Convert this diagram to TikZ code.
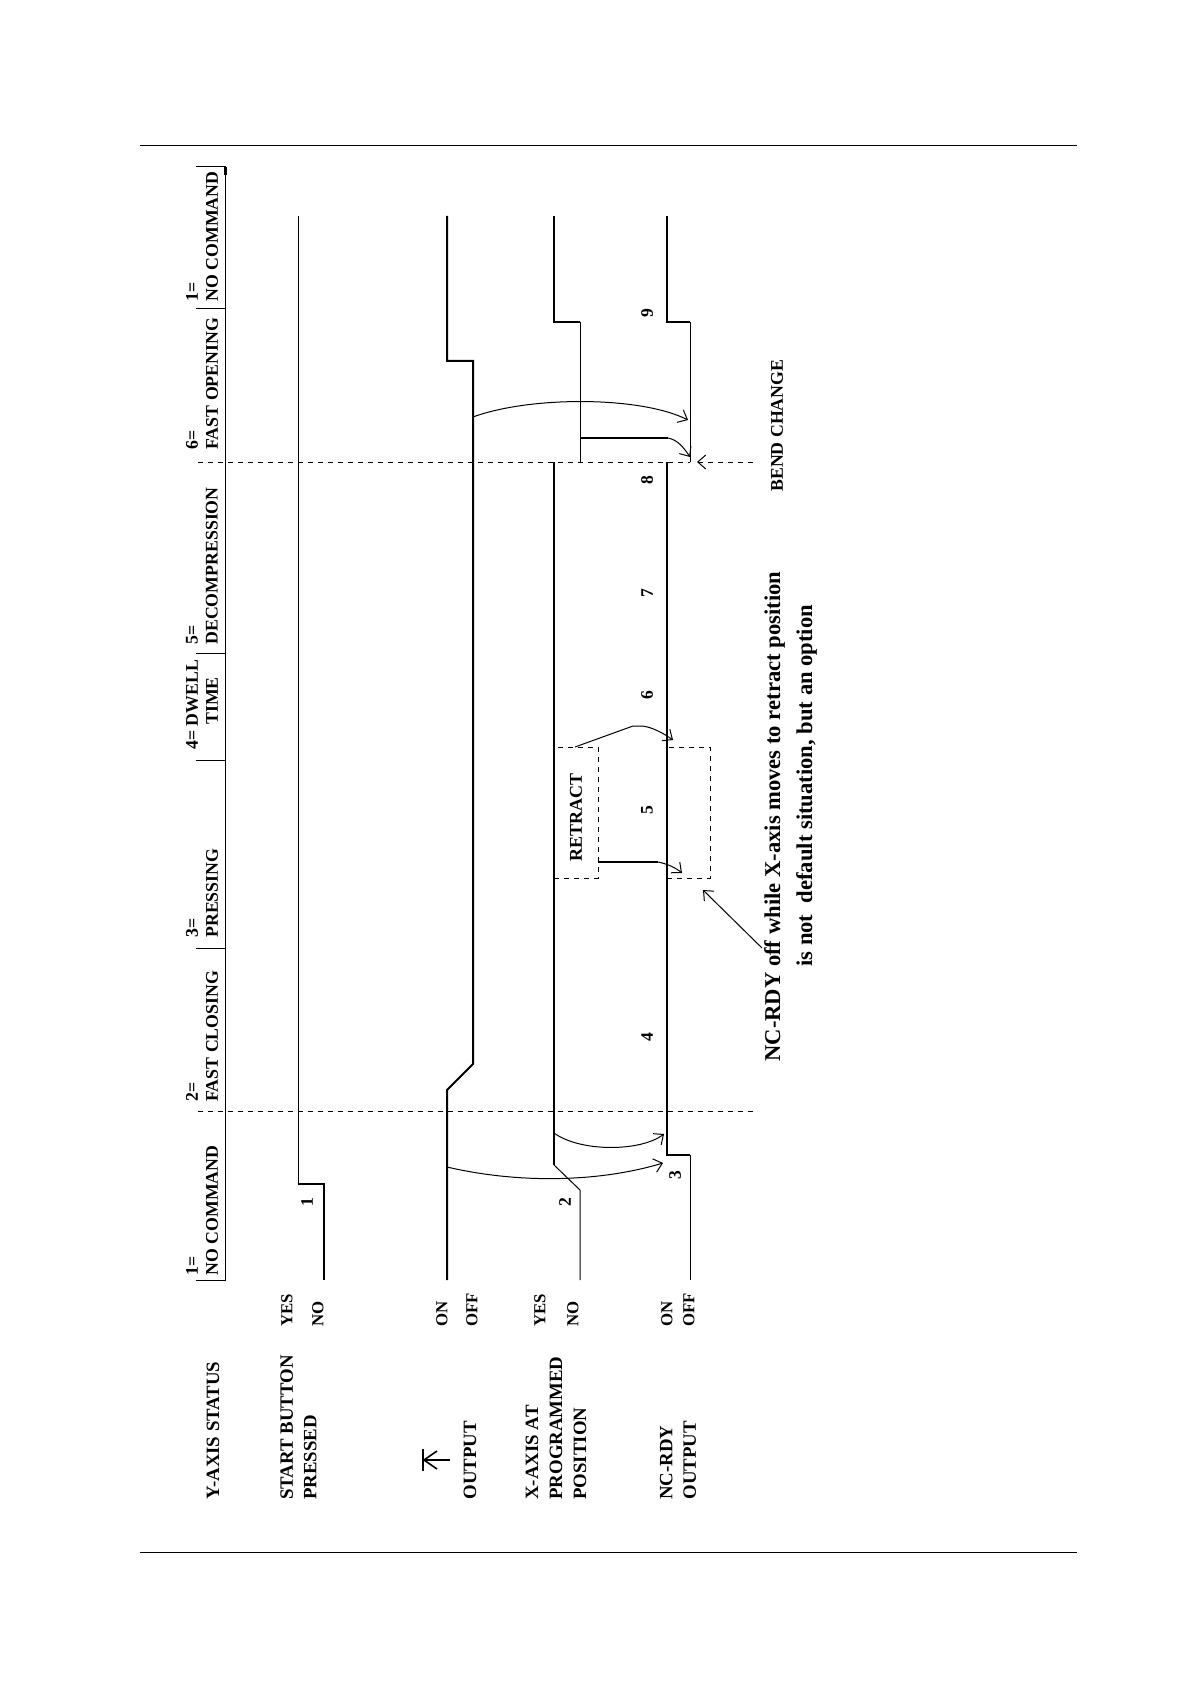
\documentclass[tikz,border=0pt]{standalone}
\usepackage{fontspec}
\setmainfont{Liberation Serif}
\usepackage{tikz}
\usetikzlibrary{arrows.meta, positioning}
\tikzstyle{hdr} = [rotate=90, anchor=west, inner sep=0pt, align=left, font=\fontsize{8.9}{10}\selectfont\bfseries]
\tikzstyle{lbl} = [rotate=90, anchor=west, inner sep=0pt, align=left, font=\fontsize{9.4}{11.75}\selectfont\bfseries]
\tikzstyle{lvl} = [rotate=90, anchor=west, inner sep=0pt, font=\fontsize{8.4}{10}\selectfont\bfseries]
\tikzstyle{num} = [rotate=90, inner sep=0pt, font=\fontsize{8.8}{10}\selectfont\bfseries]
\tikzstyle{note} = [rotate=90, anchor=base west, inner sep=0pt, font=\fontsize{11.3}{14}\selectfont\bfseries]
\tikzstyle{sig} = [line width=1pt]
\tikzstyle{sigthin} = [line width=0.5pt]
\tikzstyle{cue} = [draw, line width=0.5pt, ->]
\tikzstyle{phase} = [line width=0.5pt, dash pattern=on 2.5pt off 2.5pt]

\begin{document}
\begin{tikzpicture}[x=0.5pt, y=-0.5pt, >={Straight Barb[length=4pt,width=7pt]}]
    \useasboundingbox (0,0) rectangle (1190,1684);
    % Page rules
    \draw[sigthin] (140,146) -- (1077,146);
    \draw[sigthin] (140,1552) -- (1077,1552);

    % Y-axis status header
    \draw[sigthin] (196,167) -- (225,167) -- (225,1280) -- (196,1280);
    \draw[line width=1.5pt] (225,167) -- (225,175);
    \foreach \y in {309,653,760,948}
        \draw[sigthin] (196,\y) -- (225,\y);
    \node (st1) [hdr] at (202,1276) {1=\\NO COMMAND};
    \node (st2) [hdr] at (202,1102) {2=\\FAST CLOSING};
    \node (st3) [hdr] at (202,938) {3=\\PRESSING};
    \node (st4) [hdr] at (202,750) {4= DWELL\\\hspace*{12.5pt}TIME};
    \node (st5) [hdr] at (202,645) {5=\\DECOMPRESSION};
    \node (st6) [hdr] at (202,450) {6=\\FAST OPENING};
    \node (st7) [hdr] at (202,302) {1=\\NO COMMAND};

    % Phase boundaries
    \draw[phase] (198,1111) -- (757,1111);
    \draw[phase] (198,462) -- (690,462);

    % Signal names
    \node (ystatus) [lbl] at (213,1500) {Y-AXIS STATUS};
    \node (startbtn) [lbl] at (298.5,1500) {START BUTTON\\PRESSED};
    \node (yout) [lbl] at (470,1500) {OUTPUT};
    \node (xpos) [lbl, font=\fontsize{9.4}{12}\selectfont\bfseries] at (556,1500) {X-AXIS AT\\PROGRAMMED\\POSITION};
    \node (ncrdy) [lbl] at (678,1500) {NC-RDY\\OUTPUT};
    \draw[line width=0.8pt] (450,1460) -- (423,1460);
    \draw[line width=0.8pt] (423,1449) -- (423,1471);
    \draw[line width=0.8pt] (437,1451) -- (424,1460) -- (437,1469);

    % Levels
    \node (startyes) [lvl] at (287,1327) {YES};
    \node (startno) [lvl] at (318,1327) {NO};
    \node (youton) [lvl] at (442,1327) {ON};
    \node (youtoff) [lvl] at (472,1327) {OFF};
    \node (xposyes) [lvl] at (540,1327) {YES};
    \node (xposno) [lvl] at (573,1327) {NO};
    \node (ncon) [lvl] at (667,1327) {ON};
    \node (ncoff) [lvl] at (689,1327) {OFF};

    % Traces
    \draw[sig] (324,1280) -- (324,1184) -- (298,1184);
    \draw[sigthin] (298,1184) -- (298,216);
    \draw[sig] (447,1280) -- (447,1090) -- (473,1064) -- (473,361) -- (447,361) -- (447,216);
    \draw[sigthin] (580,1280) -- (580,1190) -- (554,1165);
    \draw[sig] (554,1165) -- (554,462);
    \draw[sigthin] (580,462) -- (580,322);
    \draw[sig] (580,322) -- (554,322) -- (554,216);
    \draw[sigthin] (690,1280) -- (690,1155);
    \draw[sig] (690,1155) -- (667,1155) -- (667,462);
    \draw[sigthin] (690,462) -- (690,322);
    \draw[sig] (690,322) -- (667,322) -- (667,216);

    % Retract option
    \draw[phase] (554,878) -- (598,878) -- (598,747) -- (554,747);
    \draw[phase] (667,878) -- (710,878) -- (710,747) -- (667,747);
    \node (retract) [rotate=90, font=\fontsize{9}{10}\selectfont\bfseries] at (576,817) {RETRACT};

    % Step numbers
    \node (n1) [num] at (307,1202) {1};
    \node (n2) [num] at (565,1202) {2};
    \node (n3) [num] at (675,1175) {3};
    \node (n4) [num] at (647,1037) {4};
    \node (n5) [num] at (647,810) {5};
    \node (n6) [num] at (647,695) {6};
    \node (n7) [num] at (647,593) {7};
    \node (n8) [num] at (647,480) {8};
    \node (n9) [num] at (647,313) {9};

    % Cause and effect
    \draw[cue] (447,1167) .. controls (520,1184) and (600,1182) .. (663,1163);
    \draw[cue] (554,1133) .. controls (580,1152) and (640,1152) .. (664,1134);
    \draw[cue] (473,417) .. controls (530,396) and (640,396) .. (688,420);
    \draw[sig] (580,438) -- (668,438);
    \draw[cue] (668,438) .. controls (678,440) and (684,448) .. (690,457);
    \draw[sigthin] (575,747) -- (633,726) -- (642,726);
    \draw[cue] (642,726) .. controls (652,727) and (663,733) .. (673,740);
    \draw[sig] (598,862) -- (658,862);
    \draw[cue] (658,862) .. controls (668,864) and (676,868) .. (682,873);

    % Notes
    \node (bend) [rotate=90, anchor=west, inner sep=0pt, font=\fontsize{8.9}{10}\selectfont\bfseries] at (777,492) {BEND CHANGE};
    \coordinate (bendtail) at (753,462);
    \coordinate (bendtip) at (697,462);
    \draw[phase, ->] (bendtail) -- (bendtip);
    \node (optnote) [note] at (780,1062) {NC-RDY off while X-axis moves to retract position};
    \node (optnote2) [note] at (812,967) {is not\ \ default situation, but an option};
    \coordinate (opttip) at (703,890);
    \draw[cue] (762,948) -- (opttip);
\end{tikzpicture}
\end{document}
